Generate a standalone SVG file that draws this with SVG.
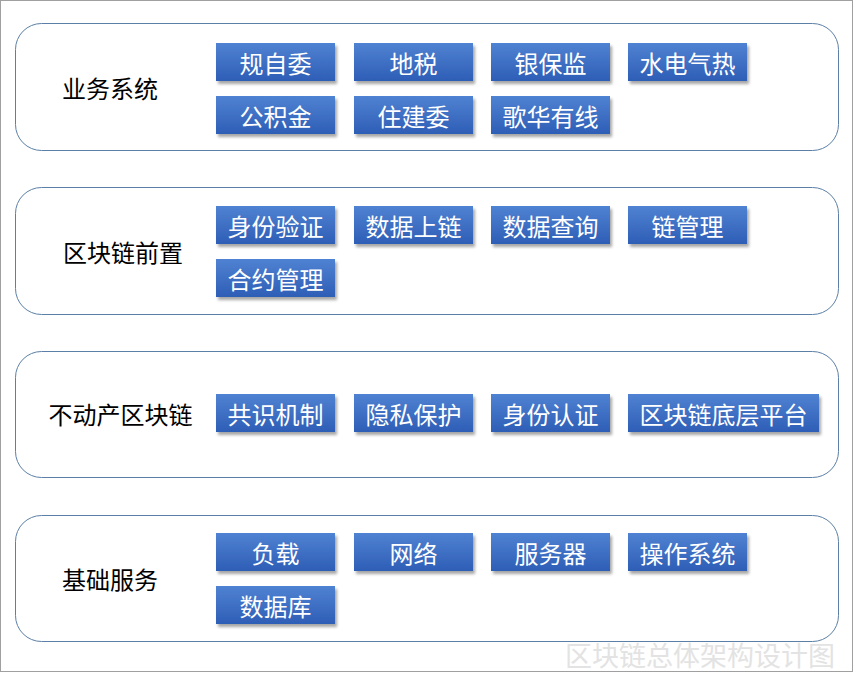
<svg xmlns="http://www.w3.org/2000/svg" width="856" height="688" viewBox="0 0 856 688">
<style>
.panel{fill:#fff;stroke:#5b7fa6;stroke-width:1}
.btn{fill:url(#g);filter:url(#sh)}
.bt{fill:#fff;font-family:"Noto Sans CJK SC","Noto Sans",sans-serif;font-size:24px;text-anchor:middle;dominant-baseline:central}
.lb{fill:#000;font-family:"Noto Sans CJK SC","Noto Sans",sans-serif;font-size:24px;text-anchor:middle;dominant-baseline:central}
.wm{fill:#e3e3e3;font-family:"Noto Sans CJK SC","Noto Sans",sans-serif;font-size:27px;text-anchor:end}
</style>
<defs>
<linearGradient id="g" x1="0" y1="0" x2="0" y2="1">
<stop offset="0" stop-color="#4f82d2"/>
<stop offset="1" stop-color="#2e5eb6"/>
</linearGradient>
<filter id="sh" x="-10%" y="-20%" width="130%" height="160%">
<feDropShadow dx="2" dy="3" stdDeviation="1.5" flood-color="#000" flood-opacity="0.35"/>
</filter>
</defs>
<rect x="0" y="0" width="856" height="688" fill="#fff"/>
<rect x="0.5" y="0.5" width="852" height="671" fill="none" stroke="#a0a0a0"/>
<g id="connectors"></g>
<g id="panel-business">
<rect class="panel" x="15.5" y="23.5" width="823" height="127" rx="26"/>
<text class="lb" x="110" y="87">业务系统</text>
<rect class="btn" x="216" y="43" width="119" height="38"/><text class="bt" x="275.5" y="62">规自委</text>
<rect class="btn" x="354" y="43" width="119" height="38"/><text class="bt" x="413.5" y="62">地税</text>
<rect class="btn" x="491" y="43" width="119" height="38"/><text class="bt" x="550.5" y="62">银保监</text>
<rect class="btn" x="628" y="43" width="119" height="38"/><text class="bt" x="687.5" y="62">水电气热</text>
<rect class="btn" x="216" y="96" width="119" height="38"/><text class="bt" x="275.5" y="115">公积金</text>
<rect class="btn" x="354" y="96" width="119" height="38"/><text class="bt" x="413.5" y="115">住建委</text>
<rect class="btn" x="491" y="96" width="119" height="38"/><text class="bt" x="550.5" y="115">歌华有线</text>
</g>
<g id="panel-front">
<rect class="panel" x="15.5" y="187.5" width="823" height="127" rx="26"/>
<text class="lb" x="123" y="251">区块链前置</text>
<rect class="btn" x="216" y="206" width="119" height="38"/><text class="bt" x="275.5" y="225">身份验证</text>
<rect class="btn" x="354" y="206" width="119" height="38"/><text class="bt" x="413.5" y="225">数据上链</text>
<rect class="btn" x="491" y="206" width="119" height="38"/><text class="bt" x="550.5" y="225">数据查询</text>
<rect class="btn" x="628" y="206" width="119" height="38"/><text class="bt" x="687.5" y="225">链管理</text>
<rect class="btn" x="216" y="259" width="119" height="38"/><text class="bt" x="275.5" y="278">合约管理</text>
</g>
<g id="panel-chain">
<rect class="panel" x="15.5" y="351.5" width="823" height="126" rx="26"/>
<text class="lb" x="120.5" y="413">不动产区块链</text>
<rect class="btn" x="216" y="394" width="119" height="38"/><text class="bt" x="275.5" y="413">共识机制</text>
<rect class="btn" x="354" y="394" width="119" height="38"/><text class="bt" x="413.5" y="413">隐私保护</text>
<rect class="btn" x="491" y="394" width="119" height="38"/><text class="bt" x="550.5" y="413">身份认证</text>
<rect class="btn" x="628" y="394" width="191" height="38"/><text class="bt" x="723.5" y="413">区块链底层平台</text>
</g>
<g id="panel-base">
<rect class="panel" x="15.5" y="515.5" width="823" height="126" rx="26"/>
<text class="lb" x="110" y="578">基础服务</text>
<rect class="btn" x="216" y="533" width="119" height="38"/><text class="bt" x="275.5" y="552">负载</text>
<rect class="btn" x="354" y="533" width="119" height="38"/><text class="bt" x="413.5" y="552">网络</text>
<rect class="btn" x="491" y="533" width="119" height="38"/><text class="bt" x="550.5" y="552">服务器</text>
<rect class="btn" x="628" y="533" width="119" height="38"/><text class="bt" x="687.5" y="552">操作系统</text>
<rect class="btn" x="216" y="586" width="119" height="38"/><text class="bt" x="275.5" y="605">数据库</text>
</g>
<text class="wm" x="835" y="666">区块链总体架构设计图</text>
</svg>
